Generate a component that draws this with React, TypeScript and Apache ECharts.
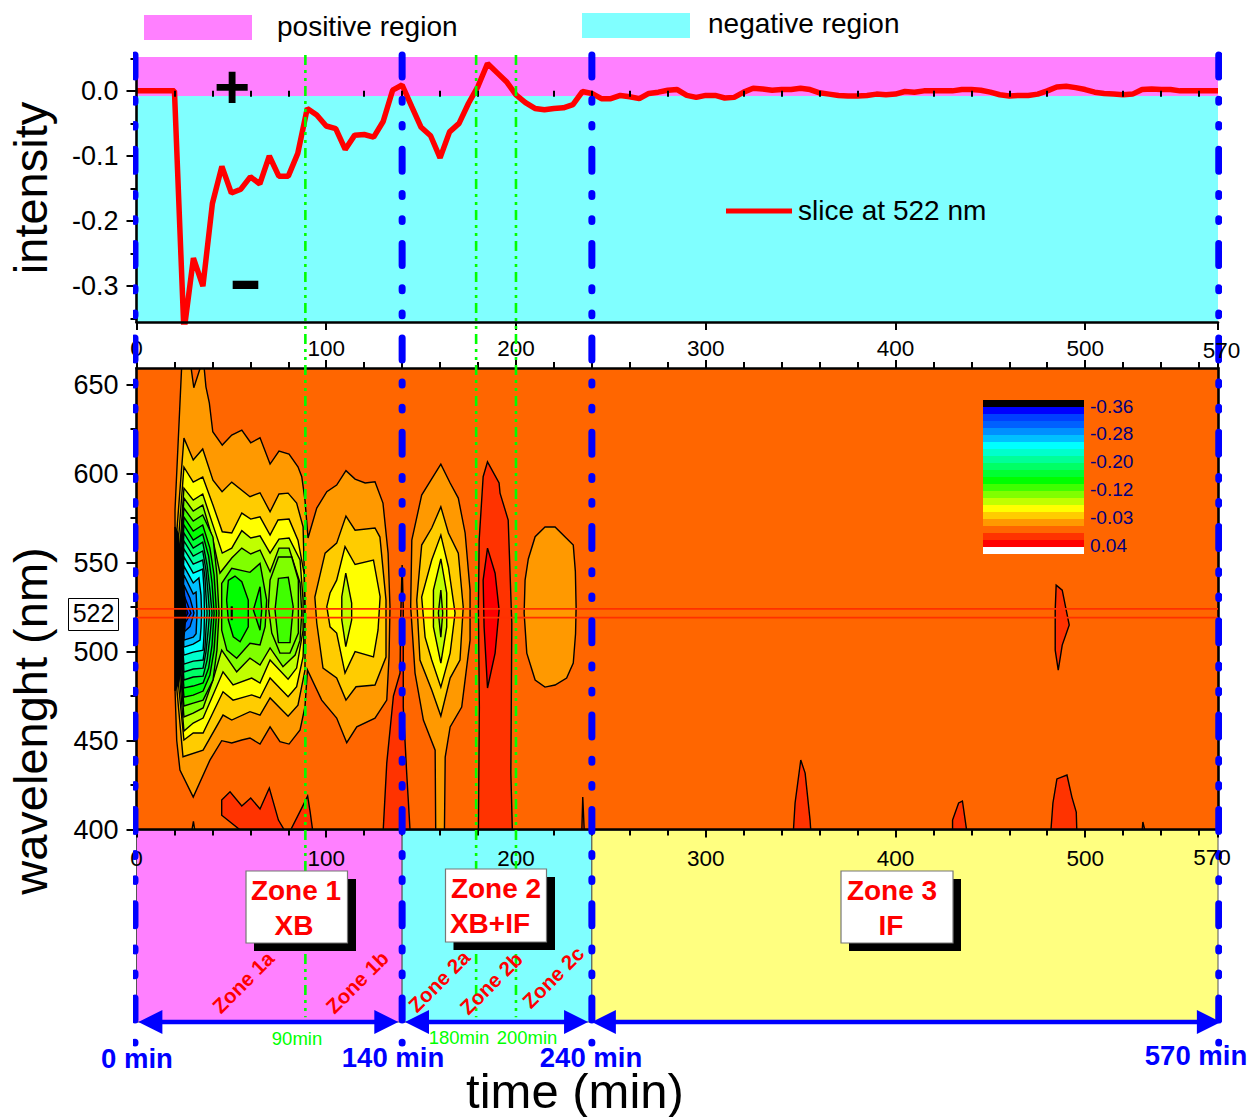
import React, { useEffect, useRef } from "react";
import * as echarts from "echarts";

type Pt = number[];

const FONT = "Liberation Sans";

// ---------- slice at 522 nm ----------
const sliceTimes = [0, 20, 25, 30, 35, 40, 45, 50, 55, 60, 65, 70, 75, 80, 85, 90, 95, 100, 105, 110, 115, 120, 125, 130, 135, 140, 145, 150, 155, 160, 165, 170, 175, 180, 185, 190, 195, 200, 205, 210, 215, 220, 225, 230, 235, 240, 245, 250, 255, 260, 265, 270, 275, 280, 285, 290, 295, 300, 305, 310, 315, 320, 325, 330, 335, 340, 345, 350, 355, 360, 365, 370, 375, 380, 385, 390, 395, 400, 405, 410, 415, 420, 425, 430, 435, 440, 445, 450, 455, 460, 465, 470, 475, 480, 485, 490, 495, 500, 505, 510, 515, 520, 525, 530, 535, 540, 545, 550, 555, 560, 565, 570];
const sliceValues = [0, 0, -0.37, -0.257, -0.3, -0.173, -0.116, -0.157, -0.151, -0.132, -0.143, -0.1, -0.131, -0.131, -0.096, -0.027, -0.037, -0.054, -0.058, -0.09, -0.068, -0.067, -0.071, -0.047, 0.001, 0.009, -0.024, -0.056, -0.069, -0.103, -0.063, -0.05, -0.019, 0.007, 0.042, 0.028, 0.014, -0.006, -0.018, -0.027, -0.029, -0.027, -0.026, -0.021, -0.001, -0.004, -0.012, -0.012, -0.007, -0.009, -0.012, -0.004, -0.002, 0.001, 0.002, -0.007, -0.01, -0.007, -0.007, -0.011, -0.01, -0.002, 0.004, 0.003, 0.001, 0.002, 0.002, 0.004, 0.002, -0.003, -0.005, -0.007, -0.008, -0.008, -0.007, -0.005, -0.006, -0.005, -0.001, -0.002, 0, 0, 0, 0, 0.002, 0.002, 0.001, -0.002, -0.006, -0.008, -0.007, -0.007, -0.005, 0, 0.006, 0.007, 0.005, 0.002, -0.002, -0.004, -0.005, -0.006, -0.005, 0.002, 0.003, 0.002, 0.002, 0, 0, 0, 0, 0];

// ---------- axes ----------
const timeMajorTicks = [0, 100, 200, 300, 400, 500];
const timeMinorTicks = [20, 40, 60, 80, 120, 140, 160, 180, 220, 240, 260, 280, 320, 340, 360, 380, 420, 440, 460, 480, 520, 540, 560];
const intensityMajorTicks = [-0.3, -0.2, -0.1, 0];
const intensityMinorTicks = [-0.35, -0.25, -0.15, -0.05, 0.05];
const wavelengthMajorTicks = [400, 450, 500, 550, 600, 650];
const wavelengthMinorTicks = [425, 475, 525, 575, 625];

// ---------- regions and markers ----------
const intensityBands = [[-0.008, 0.052, "#ff80ff"], [-0.355, -0.008, "#80ffff"]];
const zoneSpans = [[0, 140, "#ff80ff"], [140, 240, "#80ffff"], [240, 570, "#ffff80"]];
const zoneArrows = [[1, 138], [141.5, 238], [240, 571.5]];
const zoneGuides = [-0.8, 140, 240, 570.4];
const subzoneGuides = [89, 179, 200];
const sliceBand = [524, 519];

// ---------- contour levels, deepest last ----------
const levelColors = ["#000000", "#0000ff", "#0040ff", "#0060ff", "#0090ff", "#00c0ff", "#00ffff", "#00ffcc", "#00ff99", "#00ff66", "#00ff33", "#00ff00", "#40ff00", "#80ff00", "#c0ff00", "#ffff00", "#ffcc00", "#ff9900", "#ff6600", "#ff3300", "#ff0000", "#ffffff"];
const legendLabels = ["-0.36", "-0.28", "-0.20", "-0.12", "-0.03", "0.04"];

const redBottomA: Pt[] = [[44.9, 416.6], [49.3, 421.2], [55.5, 413.2], [60.2, 417.7], [65.1, 411.5], [70, 423.3], [74.8, 405.3], [78.3, 399], [55.5, 399], [44.9, 408]];
const redBottomB: Pt[] = [[80.9, 399], [88, 414], [90.2, 418.8], [91.5, 410], [92.9, 399]];
const redTall140: Pt[] = [[130, 399], [131.9, 437.3], [135.4, 475], [138.9, 487.9], [139.2, 517.7], [140, 548.6], [140.6, 525], [140.6, 468.8], [142.4, 431.7], [144.2, 399]];
const redLobe185: Pt[] = [[185, 606.6], [182.7, 598.2], [180.6, 562.6], [180.2, 525], [180.7, 468.8], [180.2, 399], [198.1, 399], [197.3, 431.7], [197.8, 516], [195.9, 573.9], [191.6, 589], [191.1, 594.7]];
const deepRedLobe185: Pt[] = [[185, 558.1], [182.7, 540.1], [183.2, 513.8], [185, 479.5], [189, 499.1], [191.1, 523.3], [189, 544]];
const redSpike235: Pt[] = [[234.7, 399], [235.2, 418.2], [236, 399]];
const redPeak490: Pt[] = [[484.7, 537.3], [487.9, 534.5], [490, 523.3], [491.6, 514.9], [487.9, 503.6], [485.8, 489.6], [484.2, 500.8], [484.2, 523.3]];
const redFoot350: Pt[] = [[346.2, 399], [347.1, 414.9], [350.1, 439], [352.4, 431.7], [355, 405.3], [355.4, 399]];
const redFoot435: Pt[] = [[430.1, 399], [430.1, 405.3], [433.3, 414.9], [435.3, 416], [437.6, 399]];
const redFoot490: Pt[] = [[481.9, 399], [483, 414.9], [485.1, 428.4], [490.4, 430.6], [493, 418.2], [495.3, 409.8], [495.6, 399]];
const redFoot530: Pt[] = [[530, 399], [530.4, 404.2], [531.6, 399]];

const orangeMain: Pt[] = [[23.8, 660], [20.3, 579.5], [20.3, 478.4], [21.2, 450], [22.9, 433.4], [29.9, 418.2], [38.7, 439], [44.9, 449.9], [50.2, 448.6], [55.5, 450.3], [59.8, 451.4], [65.1, 448], [70.4, 457.7], [75.6, 449.3], [80.4, 448], [86.2, 455.9], [88.8, 469], [90.1, 489.6], [97.6, 472.7], [105.5, 462.6], [110.8, 448.8], [116.1, 457.7], [125.7, 462.6], [131.9, 472.7], [133.1, 496.9], [133.6, 525], [132.6, 555.3], [129.9, 583.4], [125.7, 595.4], [120.5, 594.7], [115.2, 596.9], [110.4, 601.6], [105.5, 593.5], [100.3, 589.8], [95, 580.6], [90.4, 563.8], [88.8, 585.1], [87.1, 598.2], [85.1, 603.8], [80.4, 610.9], [75.1, 612.6], [70.4, 605.3], [65.1, 620.1], [60.2, 617.3], [55.5, 624.4], [50.2, 621.6], [45.2, 616], [40.2, 623.5], [38.4, 639.6], [36.6, 648.7], [35.6, 660], [33.8, 660], [30.2, 648.2], [28.7, 660]];
const orangeSmallFoot: Pt[] = [[29.1, 399], [30, 404.6], [30.8, 399]];
const orangeLobe160: Pt[] = [[160.4, 605.3], [150.3, 587.9], [145.1, 562.6], [144.5, 525.2], [146.8, 487.9], [151.2, 461.5], [157.4, 444.6], [157.7, 399], [162.3, 399], [162.7, 440.7], [165.3, 457.6], [171.4, 468.8], [175.8, 506.4], [175.8, 534.5], [173.2, 566.6], [169.6, 586.2], [165.3, 594.7]];
const orangeOval220: Pt[] = [[215.3, 570], [210.1, 564.5], [206.5, 552], [204.8, 540.1], [204.3, 521.6], [205.7, 499.1], [210.1, 484], [215.3, 480], [220.6, 481.2], [226.7, 485.1], [230.2, 493.5], [231.4, 510], [231.7, 525], [231.3, 545], [230.2, 559.8], [220.6, 570]];

const amberA: Pt[] = [[20.8, 521.6], [21.3, 568.2], [25, 619.9], [29.9, 607.6], [34.9, 613.8], [40.3, 596.3], [45.1, 589.8], [50.2, 595.2], [59.8, 587], [65.1, 589.2], [70.4, 578.5], [75.1, 588.5], [79.9, 589], [84.4, 583.4], [87.8, 570.1], [88.8, 528.9], [88.8, 489.6], [85.1, 469.9], [79.9, 463.7], [70.4, 473.9], [65.1, 464.3], [59.8, 466.2], [50.2, 461.5], [45.6, 464.3], [35.1, 444.6], [24.5, 440.9], [21.3, 478.4]];
const amberB: Pt[] = [[110.4, 576.1], [115.2, 568.2], [125.7, 569.4], [128.3, 564.3], [131.5, 528.9], [131.5, 496.9], [125.7, 481.2], [115.7, 480.2], [110.4, 472.7], [105.5, 485.1], [98.3, 490.7], [95, 516], [94, 530.6], [99.4, 555.3], [105.5, 560.9]];
const amberC: Pt[] = [[160.4, 581.3], [155.6, 569.4], [150.3, 559.8], [147.7, 528.9], [149.4, 495.2], [155.6, 478.4], [160.4, 463.8], [165.3, 485.1], [170.5, 495.2], [172.2, 525], [169.6, 555.3], [164.4, 566.6]];

const yellowA: Pt[] = [[21.6, 521.6], [21.9, 559.8], [25, 603.6], [29.9, 595.2], [34.9, 598], [40.3, 582.3], [45.2, 567.3], [50.2, 566.6], [55.5, 577.8], [60.2, 574.4], [65.1, 575.7], [70.4, 565.4], [74.6, 573.9], [80.4, 574.4], [85.1, 562.6], [88.3, 544.1], [88.6, 521.6], [87.8, 497.1], [84.4, 480.2], [79.9, 474.6], [70.4, 485.1], [65.1, 473.9], [60.7, 475.6], [50.9, 472.7], [45.6, 477.4], [35.1, 454.2], [29.9, 454.2], [25, 450.3], [21.9, 484]];
const yellowB: Pt[] = [[109.9, 558.9], [115.2, 548.9], [124.9, 551.4], [128.4, 530.8], [127.3, 512.1], [124.9, 497], [115.2, 499.9], [109.9, 487.9], [105.5, 510.4], [102, 513.9], [100.3, 525.2], [102, 532.9], [105.5, 540.1]];
const yellowC: Pt[] = [[160.4, 565.4], [155.6, 551.4], [150.3, 530.6], [152.1, 508.1], [155.6, 495.2], [160.4, 480], [165.3, 499.1], [167.9, 521.6], [164.4, 547.5]];

const limeA: Pt[] = [[21.9, 521.6], [22.4, 551.4], [25, 591.8], [29.9, 585.1], [34.9, 588.5], [40.3, 571], [45.2, 555.3], [50.2, 558.1], [55.5, 567.9], [60.2, 563.8], [65.1, 565], [70.4, 555.3], [75.1, 563.2], [80.4, 563.8], [86.2, 551.4], [87.8, 528.9], [87.8, 512], [84.4, 490.7], [79.9, 484.5], [70.4, 495.2], [65.1, 482.3], [60.7, 485.1], [50.9, 481.2], [45.6, 488.6], [35.1, 462.6], [29.9, 459.8], [25, 455.3], [22.4, 489.6]];
const limeB: Pt[] = [[110.3, 544.1], [113.4, 527.2], [113.4, 517.7], [110.3, 502.7], [108.2, 517.7], [108.2, 530.8]];
const limeC: Pt[] = [[160.4, 552], [156.5, 534.5], [156.5, 513.8], [160.4, 493.5], [163.5, 513.8], [163.5, 532.9]];

const chartreuseA: Pt[] = [[22.1, 521.6], [22.7, 545.8], [25, 586.2], [29.9, 578.9], [34.9, 582.3], [40.3, 562.6], [44, 544.1], [50.2, 552.5], [55.5, 558.1], [60.2, 554.8], [65.1, 557], [70.4, 544.8], [75.1, 558.1], [80.4, 558.1], [86.2, 538.5], [87.1, 521.6], [86.2, 506.4], [83.6, 498], [77.2, 491.5], [70.4, 502], [65.1, 492.4], [59.8, 496.3], [52.8, 488.6], [44.9, 500.8], [40.3, 484], [35.1, 468.3], [29.9, 465.4], [25, 463.2], [22.7, 495.2]];
const chartreuseB: Pt[] = [[70.4, 540.2], [74.8, 553.1], [81.8, 553.1], [85.3, 540.2], [85.3, 510.4], [80.9, 499.1], [75.6, 499.1], [71.3, 510.4], [69.5, 525.2]];
const chartreuseC: Pt[] = [[160.4, 534.5], [159.1, 521.6], [160.4, 508.1], [161.4, 521.6]];

const leafDense: Pt[] = [[22.3, 521.6], [22.7, 549.7], [25, 580.6], [29.9, 573.3], [34.9, 576.7], [40.3, 564.3], [42.4, 543], [43.5, 521.6], [42.4, 500.8], [40.3, 484], [35.1, 472.7], [29.9, 471], [25, 469.4], [22.7, 497.4]];
const leafLobeA: Pt[] = [[44.9, 538.3], [50.2, 546.7], [59.8, 544.5], [65.1, 549.5], [68.6, 528.9], [67.8, 514], [65.1, 503.7], [59.8, 504.6], [52.8, 496.2], [47.6, 500.8], [44.9, 512], [44.9, 525.2]];
const leafLobeB: Pt[] = [[74.8, 541.1], [80, 541.7], [82.6, 525.2], [80.9, 505], [74.8, 505], [73, 523.3]];

const greenDense: Pt[] = [[22.5, 521.6], [22.9, 544.6], [25, 575.5], [29.9, 567.7], [34.9, 571.1], [38.7, 558.1], [40.9, 543], [42.2, 521.6], [40.9, 500.8], [38.7, 486.8], [35.1, 477.8], [29.9, 475.5], [25, 474.4], [22.9, 502.4]];
const greenLobeA: Pt[] = [[48.4, 540], [51.9, 542.4], [55.5, 539.2], [58.9, 528.9], [58.9, 513.9], [54.6, 505.5], [51, 508.3], [48.4, 517.7], [47.5, 528.9]];
const greenLobeB: Pt[] = [[65.1, 536.4], [61.6, 523.3], [65.1, 512], [66, 523.3]];
const greenSliver: Pt[] = [[50, 525], [50.4, 525], [50.4, 518], [50, 518]];

const contour33: Pt[] = [[22.7, 521.6], [23.1, 540.2], [25, 571.1], [29.9, 562.6], [34.9, 566], [38, 553.6], [39.8, 538.5], [40.9, 521.6], [39.8, 503.6], [38, 490.7], [35.1, 482.3], [29.9, 480.6], [25, 479.5], [23.1, 507.5]];
const contour66: Pt[] = [[22.9, 521.6], [23.3, 535.7], [25, 566.6], [29.9, 558.1], [34.9, 561.5], [37.2, 548.6], [38.7, 534.5], [39.8, 521.6], [38.7, 508.1], [37.2, 495.2], [35.1, 486.2], [29.9, 485.7], [25, 484], [23.3, 512]];
const contour99: Pt[] = [[23.1, 521.6], [23.5, 531.2], [25, 562.1], [29.9, 553.6], [34.9, 556.5], [36.6, 545.8], [37.7, 532.9], [38.5, 521.6], [37.7, 510.9], [36.6, 499.7], [35.1, 490.7], [29.9, 490.2], [25, 488.5], [23.5, 516.5]];
const contourCc: Pt[] = [[23.5, 521.6], [23.7, 535], [25, 557.6], [29.9, 549.1], [34.9, 551.4], [36.1, 541.3], [36.6, 531.7], [37.2, 521.6], [36.6, 512.1], [36.1, 502.5], [35.1, 495.2], [29.9, 494.6], [25, 492.9], [23.7, 510]];
const contourCyan: Pt[] = [[23.7, 521.6], [24, 532], [25, 553.1], [29.9, 544.1], [34.9, 546.3], [35.6, 534.5], [35.8, 521.6], [35.6, 509.3], [35.1, 500.8], [29.9, 499.7], [25, 498], [24, 510]];
const contourSky: Pt[] = [[23.9, 521.6], [25, 548], [29.9, 538.5], [32.9, 541.3], [34, 531.7], [34.3, 521.6], [34, 513.2], [33.5, 506.4], [29.9, 504.2], [25, 502.5]];
const contourAzure: Pt[] = [[24.1, 521.6], [25, 543], [29.9, 532.3], [31.4, 533.4], [31.9, 521.6], [31.4, 510], [29.9, 508.1], [25, 506.4]];
const contourBlue3: Pt[] = [[24.3, 521.6], [25, 537.3], [28.2, 530], [30.3, 521.6], [28.2, 514], [25, 511]];
const contourBlue2: Pt[] = [[24.5, 521.6], [25, 531.7], [28.7, 521.6], [25, 514.9]];
const contourBlue1: Pt[] = [[24.7, 521.6], [25, 527.2], [27.1, 521.6], [25, 517.7]];
const contourBlack: Pt[] = [[20.3, 521.6], [20.3, 570], [22, 566], [24, 545], [25.5, 530], [26, 521.6], [25.5, 513], [24, 498], [22, 482], [20.3, 478]];

const contours: { level: number; points: Pt[] }[] = [
  { level: 19, points: redBottomA }, { level: 19, points: redBottomB }, { level: 19, points: redTall140 },
  { level: 19, points: redLobe185 }, { level: 20, points: deepRedLobe185 }, { level: 19, points: redSpike235 },
  { level: 19, points: redPeak490 }, { level: 19, points: redFoot350 }, { level: 19, points: redFoot435 },
  { level: 19, points: redFoot490 }, { level: 19, points: redFoot530 },
  { level: 17, points: orangeMain }, { level: 17, points: orangeSmallFoot }, { level: 17, points: orangeLobe160 }, { level: 17, points: orangeOval220 },
  { level: 16, points: amberA }, { level: 16, points: amberB }, { level: 16, points: amberC },
  { level: 15, points: yellowA }, { level: 15, points: yellowB }, { level: 15, points: yellowC },
  { level: 14, points: limeA }, { level: 14, points: limeB }, { level: 14, points: limeC },
  { level: 13, points: chartreuseA }, { level: 13, points: chartreuseB }, { level: 13, points: chartreuseC },
  { level: 12, points: leafDense }, { level: 12, points: leafLobeA }, { level: 12, points: leafLobeB },
  { level: 11, points: greenDense }, { level: 11, points: greenLobeA }, { level: 11, points: greenLobeB }, { level: 10, points: greenSliver },
  { level: 10, points: contour33 }, { level: 9, points: contour66 }, { level: 8, points: contour99 }, { level: 7, points: contourCc },
  { level: 6, points: contourCyan }, { level: 5, points: contourSky }, { level: 4, points: contourAzure }, { level: 3, points: contourBlue3 },
  { level: 2, points: contourBlue2 }, { level: 1, points: contourBlue1 }, { level: 0, points: contourBlack },
];

const GRID_LEFT = 136.5;
const GRID_WIDTH = 1081.5;

function axisStyle() {
  return { show: true, onZero: false, lineStyle: { color: "#000", width: 2.6 } };
}

function timeAxes(gridIndex: number, position: string, withLabels: boolean, margin = 15) {
  const major: any = {
    type: "value", gridIndex, position, min: 0, max: 570, z: 5,
    axisLine: axisStyle(),
    axisTick: { show: true, inside: false, length: 8, customValues: timeMajorTicks.concat([570]), lineStyle: { color: "#000", width: 2 } },
    axisLabel: withLabels
      ? { show: true, customValues: timeMajorTicks, margin, color: "#000", fontFamily: FONT, fontSize: 22.5, formatter: (v: number) => String(v) }
      : { show: false },
    splitLine: { show: false },
  };
  const minor: any = {
    type: "value", gridIndex, position, min: 0, max: 570, z: 5,
    axisLine: { show: false },
    axisTick: { show: true, inside: false, length: 6, customValues: timeMinorTicks, lineStyle: { color: "#000", width: 2 } },
    axisLabel: { show: false },
    splitLine: { show: false },
  };
  return [major, minor];
}

function valueAxes(gridIndex: number, min: number, max: number, majors: number[], minors: number[], fmt: (v: number) => string) {
  return [
    {
      type: "value", gridIndex, position: "left", min, max, z: 5,
      axisLine: axisStyle(),
      axisTick: { show: true, inside: false, length: 10, customValues: majors, lineStyle: { color: "#000", width: 2 } },
      axisLabel: { show: true, customValues: majors, margin: 18, color: "#000", fontFamily: FONT, fontSize: 27, formatter: fmt },
      splitLine: { show: false },
    },
    {
      type: "value", gridIndex, position: "left", min, max, z: 5,
      axisLine: { show: false },
      axisTick: { show: true, inside: false, length: 6, customValues: minors, lineStyle: { color: "#000", width: 2 } },
      axisLabel: { show: false },
      splitLine: { show: false },
    },
  ];
}

function boxText(text: string, cx: number, cy: number) {
  return {
    type: "text", x: cx, y: cy, z: 102,
    style: { text, fill: "#ff0000", font: `bold 28px "${FONT}"`, textAlign: "center", textVerticalAlign: "middle" },
  };
}

function zoneBox(x0: number, y0: number, x1: number, y1: number, sx: number, sy: number) {
  return [
    { type: "rect", z: 100, shape: { x: x0 + 8, y: y0 + 8, width: sx - x0 - 8, height: sy - y0 - 8 }, style: { fill: "#000" } },
    { type: "rect", z: 101, shape: { x: x0, y: y0, width: x1 - x0, height: y1 - y0 }, style: { fill: "#fff", stroke: "#777", lineWidth: 1.2 } },
  ];
}

function freeText(text: string, x: number, y: number, fontSize: number, fill: string, extra: any = {}) {
  const { bold, rotation, align } = extra;
  return {
    type: "text", x, y: rotation ? y : y - 1, rotation: rotation || 0, z: 105,
    style: {
      text, fill, font: `${bold ? "bold " : ""}${fontSize}px "${FONT}"`,
      textAlign: align || "center", textVerticalAlign: "middle",
    },
  };
}

function buildGraphics() {
  const legendTop = 400;
  const band = 7;
  const legendRects = levelColors.map((c, i) => ({
    type: "rect", z: 90,
    shape: { x: 983, y: legendTop + i * band, width: 101, height: band },
    style: { fill: c },
  }));
  const legendTexts = legendLabels.map((t, i) =>
    freeText(t, 1090, 407 + i * 27.8, 19, "#00007f", { align: "left" })
  );
  const rot45 = Math.PI / 4;
  return [
    { type: "rect", z: 90, shape: { x: 144, y: 15, width: 108, height: 25 }, style: { fill: "#ff80ff" } },
    { type: "rect", z: 90, shape: { x: 582, y: 13, width: 108, height: 25 }, style: { fill: "#80ffff" } },
    freeText("positive region", 277, 27, 28, "#000", { align: "left" }),
    freeText("negative region", 708, 24, 28, "#000", { align: "left" }),
    freeText("intensity", 30, 188, 47, "#000", { rotation: Math.PI / 2 }),
    freeText("wavelenght (nm)", 30, 721, 47, "#000", { rotation: Math.PI / 2 }),
    freeText("time (min)", 575, 1092, 49, "#000"),
    freeText("+", 232, 87, 62, "#000", { bold: true }),
    freeText("-", 245.5, 277, 105, "#000"),
    { type: "line", z: 90, shape: { x1: 726, y1: 211, x2: 792, y2: 211 }, style: { stroke: "#ff0000", lineWidth: 5 } },
    freeText("slice at 522 nm", 798, 211, 28, "#000", { align: "left" }),
    freeText("570", 1221.5, 351, 22.5, "#000"),
    freeText("570", 1212, 858, 22.5, "#000"),
    { type: "rect", z: 90, shape: { x: 68.5, y: 598.5, width: 50, height: 32 }, style: { fill: "#fff", stroke: "#000", lineWidth: 1 } },
    freeText("522", 93.5, 614, 25, "#000"),
    ...legendRects,
    ...legendTexts,
    ...zoneBox(246, 871, 347.5, 943, 356, 951),
    boxText("Zone 1", 296, 890), boxText("XB", 294, 925),
    ...zoneBox(445.5, 869, 546.5, 942, 555, 950),
    boxText("Zone 2", 496, 888), boxText("XB+IF", 490, 923),
    ...zoneBox(841, 871, 953, 943, 961, 951),
    boxText("Zone 3", 892, 890), boxText("IF", 891, 925),
    freeText("Zone 1a", 243, 982, 20.5, "#ff0000", { bold: true, rotation: rot45 }),
    freeText("Zone 1b", 357, 982, 20.5, "#ff0000", { bold: true, rotation: rot45 }),
    freeText("Zone 2a", 439, 981, 20.5, "#ff0000", { bold: true, rotation: rot45 }),
    freeText("Zone 2b", 491, 983, 20.5, "#ff0000", { bold: true, rotation: rot45 }),
    freeText("Zone 2c", 553, 977, 20.5, "#ff0000", { bold: true, rotation: rot45 }),
    freeText("90min", 297, 1039, 18.5, "#00ff00"),
    freeText("180min", 459, 1038, 18.5, "#00ff00"),
    freeText("200min", 527, 1038, 18.5, "#00ff00"),
    freeText("0 min", 137, 1059, 27.5, "#0000ff", { bold: true }),
    freeText("140 min", 393, 1058, 27.5, "#0000ff", { bold: true }),
    freeText("240 min", 591, 1058, 27.5, "#0000ff", { bold: true }),
    freeText("570 min", 1196, 1056, 27.5, "#0000ff", { bold: true }),
  ];
}

function bandRender(params: any, api: any) {
  const b = intensityBands[params.dataIndex] as any[];
  const p0 = api.coord([0, b[1]]);
  const p1 = api.coord([570, b[0]]);
  return { type: "rect", shape: { x: p0[0], y: p0[1], width: p1[0] - p0[0], height: p1[1] - p0[1] }, style: { fill: b[2] } };
}

function zoneRender(params: any, api: any) {
  const z = zoneSpans[params.dataIndex] as any[];
  const p0 = api.coord([z[0], 1]);
  const p1 = api.coord([z[1], 0]);
  return {
    type: "rect",
    shape: { x: p0[0], y: p0[1], width: p1[0] - p0[0], height: p1[1] - p0[1] },
    style: { fill: z[2], stroke: "#555", lineWidth: 1 },
  };
}

function arrowRender(params: any, api: any) {
  const a = zoneArrows[params.dataIndex];
  const l = api.coord([a[0], 0]);
  const r = api.coord([a[1], 0]);
  const len = 24;
  const half = 12;
  return {
    type: "group",
    children: [
      { type: "line", shape: { x1: l[0] + 10, y1: l[1], x2: r[0] - 10, y2: r[1] }, style: { stroke: "#0000ff", lineWidth: 4.5 } },
      { type: "polygon", shape: { points: [[l[0], l[1]], [l[0] + len, l[1] - half], [l[0] + len, l[1] + half]] }, style: { fill: "#0000ff" } },
      { type: "polygon", shape: { points: [[r[0], r[1]], [r[0] - len, r[1] - half], [r[0] - len, r[1] + half]] }, style: { fill: "#0000ff" } },
    ],
  };
}

function contourRender(params: any, api: any) {
  const c = contours[params.dataIndex];
  return {
    type: "polygon",
    shape: { points: c.points.map((p) => api.coord(p)) },
    style: { fill: levelColors[c.level], stroke: "#000", lineWidth: 1.4 },
  };
}

function buildOption() {
  const guideSeries = zoneGuides.map((t) => ({
    type: "line", xAxisIndex: 7, yAxisIndex: 6, z: 20, clip: false, silent: true, symbol: "none", animation: false,
    data: [[t, 100], [t, 0]],
    lineStyle: { color: "#0000ff", width: 7, cap: "round", type: [22, 22.2, 3, 22.2, 2.7, 22.2] },
  }));
  const subGuideSeries = subzoneGuides.map((t) => ({
    type: "line", xAxisIndex: 7, yAxisIndex: 6, z: 19, clip: false, silent: true, symbol: "none", animation: false,
    data: [[t, 100], [t, 2.6]],
    lineStyle: { color: "#00ff00", width: 2.6, type: [10, 5, 3, 5, 3, 5] },
  }));
  const sliceBandSeries = sliceBand.map((nm) => ({
    type: "line", xAxisIndex: 2, yAxisIndex: 2, z: 8, symbol: "none", silent: true, animation: false,
    data: [[0, nm], [570, nm]],
    lineStyle: { color: "#ff3000", width: 1.8 },
  }));
  return {
    animation: false,
    backgroundColor: "#fff",
    grid: [
      { left: GRID_LEFT, width: GRID_WIDTH, top: 57, height: 265, containLabel: false, show: false },
      { left: GRID_LEFT, width: GRID_WIDTH, top: 368, height: 461.5, show: true, backgroundColor: "#ff6600", borderWidth: 0 },
      { left: GRID_LEFT, width: GRID_WIDTH, top: 830, height: 192, show: false },
      { left: GRID_LEFT, width: GRID_WIDTH, top: 55, height: 988, show: false },
    ],
    xAxis: [
      ...timeAxes(0, "bottom", true, 15),
      ...timeAxes(1, "bottom", true, 17),
      ...timeAxes(1, "top", false),
      { type: "value", gridIndex: 2, min: 0, max: 570, show: false },
      { type: "value", gridIndex: 3, min: 0, max: 570, show: false },
    ],
    yAxis: [
      ...valueAxes(0, -0.355, 0.052, intensityMajorTicks, intensityMinorTicks, (v) => v.toFixed(1)),
      ...valueAxes(1, 400, 659.3, wavelengthMajorTicks, wavelengthMinorTicks, (v) => String(v)),
      {
        type: "value", gridIndex: 1, position: "right", min: 400, max: 659.3, z: 5,
        axisLine: axisStyle(), axisTick: { show: false }, axisLabel: { show: false }, splitLine: { show: false },
      },
      { type: "value", gridIndex: 2, min: 0, max: 1, show: false },
      { type: "value", gridIndex: 3, min: 0, max: 100, show: false },
    ],
    graphic: { elements: buildGraphics() },
    series: [
      {
        type: "custom", xAxisIndex: 0, yAxisIndex: 0, z: 2, silent: true, clip: true,
        renderItem: bandRender, data: intensityBands.map((_, i) => [i, 0]),
      },
      {
        type: "line", xAxisIndex: 0, yAxisIndex: 0, z: 4, symbol: "none", silent: true, clip: true,
        data: sliceTimes.map((t, i) => [t, sliceValues[i]]),
        lineStyle: { color: "#ff0000", width: 5.5 },
      },
      {
        type: "custom", xAxisIndex: 2, yAxisIndex: 2, z: 3, silent: true, clip: true,
        renderItem: contourRender, data: contours.map((_, i) => [i, 0]),
      },
      ...sliceBandSeries,
      {
        type: "custom", xAxisIndex: 6, yAxisIndex: 5, z: 2, silent: true,
        renderItem: zoneRender, data: zoneSpans.map((_, i) => [i, 0]),
      },
      {
        type: "custom", xAxisIndex: 6, yAxisIndex: 5, z: 22, silent: true, clip: false,
        renderItem: arrowRender, data: zoneArrows.map((_, i) => [i, 0]),
      },
      ...subGuideSeries,
      ...guideSeries,
    ],
  };
}

export default function App() {
  const ref = useRef<HTMLDivElement>(null);
  useEffect(() => {
    document.body.style.margin = "0";
    const chart = echarts.init(ref.current!, undefined, { renderer: "svg" });
    chart.setOption(buildOption() as any);
    return () => chart.dispose();
  }, []);
  return <div ref={ref} style={{ position: "absolute", left: 0, top: 0, width: 1249, height: 1117 }} />;
}
